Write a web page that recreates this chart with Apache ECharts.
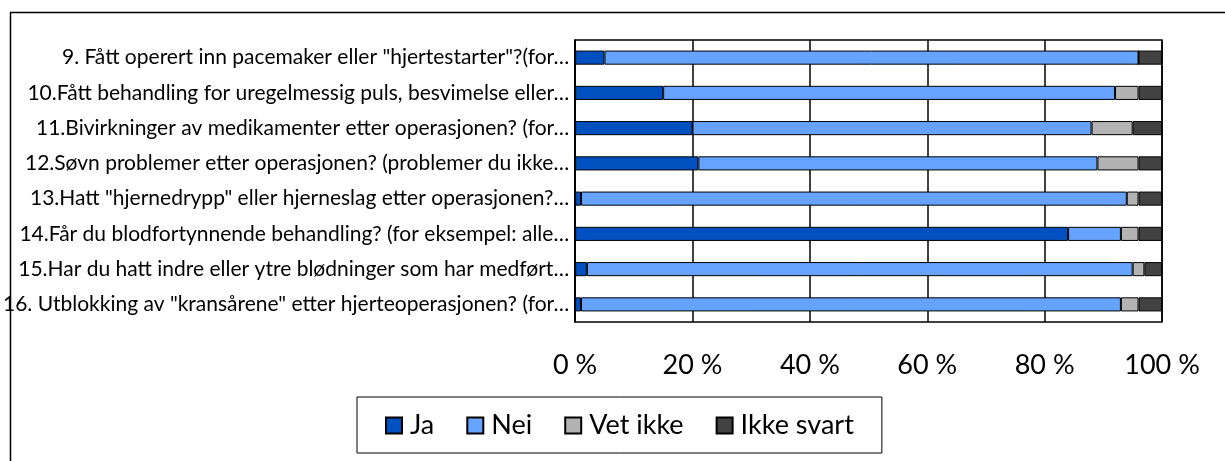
<!DOCTYPE html>
<html>
<head>
<meta charset="utf-8">
<script src="https://cdn.jsdelivr.net/npm/echarts@6/dist/echarts.min.js"></script>
<style>
  html, body { margin: 0; padding: 0; background: #fff; }
  #chart { width: 1225px; height: 461px; }
</style>
</head>
<body>
<div id="chart"></div>
<script>
// data
const categories = [
    '9. Fått operert inn pacemaker eller "hjertestarter"?(for…',
    '10.Fått behandling for uregelmessig puls, besvimelse eller…',
    '11.Bivirkninger av medikamenter etter operasjonen? (for…',
    '12.Søvn problemer etter operasjonen? (problemer du ikke…',
    '13.Hatt "hjernedrypp" eller hjerneslag etter operasjonen?…',
    '14.Får du blodfortynnende behandling? (for eksempel: alle…',
    '15.Har du hatt indre eller ytre blødninger som har medført…',
    '16. Utblokking av "kransårene" etter hjerteoperasjonen? (for…'
]
const seriesNames = ['Ja', 'Nei', 'Vet ikke', 'Ikke svart']
const ja = [5, 15, 20, 21, 1, 84, 2, 1]
const nei = [91, 77, 68, 68, 93, 9, 93, 92]
const vetIkke = [0, 4, 7, 7, 2, 3, 2, 3]
const ikkeSvart = [4, 4, 5, 4, 4, 4, 3, 4]
const xTicks = [0, 20, 40, 60, 80, 100]

const colors = ['#0050c0', '#66a3ff', '#b3b3b3', '#424242']
const font = 'Lato, Calibri, sans-serif'

let _$ = (dom) => document.querySelector(dom)

let makeSeries = (name, data, i) => {
    return {
        name: name,
        type: 'bar',
        stack: 'total',
        barWidth: '40%',
        data: data,
        itemStyle: {
            color: colors[i],
            borderColor: '#000',
            borderWidth: 1
        }
    }
}

let option = {
    animation: false,
    textStyle: { fontFamily: font },
    graphic: [{
        type: 'rect',
        left: 8,
        top: 10,
        shape: { width: 1240, height: 470 },
        style: { fill: 'none', stroke: '#000', lineWidth: 1.5 },
        silent: true
    }],
    grid: {
        left: 575,
        right: 63,
        top: 40,
        height: 282,
        show: true,
        borderColor: '#000',
        borderWidth: 1.5
    },
    legend: {
        data: seriesNames,
        left: 357,
        top: 397,
        padding: [15, 28, 14, 28],
        itemGap: 32,
        itemWidth: 16,
        itemHeight: 16,
        borderColor: '#000',
        borderWidth: 1,
        icon: 'rect',
        textStyle: { fontSize: 27, color: '#000', fontFamily: font, padding: [0, 0, 0, 3] }
    },
    xAxis: {
        type: 'value',
        min: xTicks[0],
        max: xTicks[xTicks.length - 1],
        interval: xTicks[1] - xTicks[0],
        axisLine: { show: false },
        axisTick: { show: false },
        splitLine: { lineStyle: { color: '#000', width: 1.5 } },
        axisLabel: {
            formatter: '{value} %',
            fontSize: 27,
            color: '#000',
            margin: 30
        }
    },
    yAxis: {
        type: 'category',
        inverse: true,
        data: categories,
        axisLine: { lineStyle: { color: '#000', width: 1.5 } },
        axisTick: { show: false },
        axisLabel: {
            fontSize: 21,
            color: '#000',
            margin: 6
        }
    },
    series: [
        makeSeries(seriesNames[0], ja, 0),
        makeSeries(seriesNames[1], nei, 1),
        makeSeries(seriesNames[2], vetIkke, 2),
        makeSeries(seriesNames[3], ikkeSvart, 3)
    ]
}

let myChart = echarts.init(_$('#chart'))
myChart.setOption(option)
</script>
</body>
</html>
